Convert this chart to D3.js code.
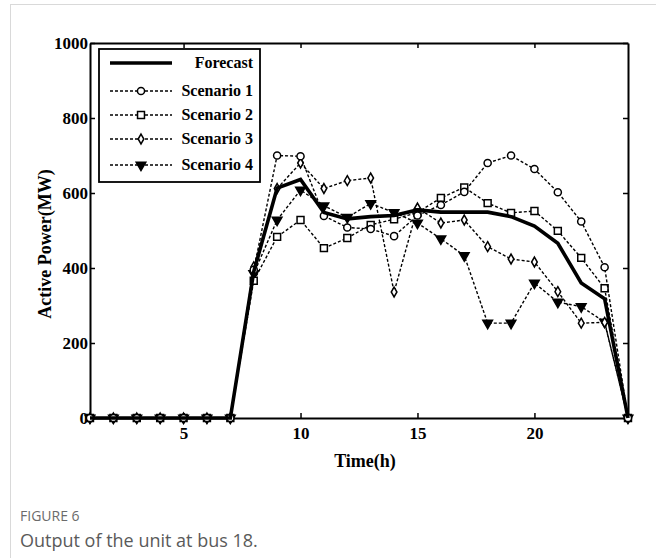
<!DOCTYPE html>
<html>
<head>
<meta charset="utf-8">
<script src="https://cdn.jsdelivr.net/npm/d3@7"></script>
<style>
  body { margin: 0; background: #fff; }
</style>
</head>
<body>
<svg id="chart" width="656" height="558"></svg>
<script>
// hours and series (MW)
const hours = [1, 2, 3, 4, 5, 6, 7, 8, 9, 10, 11, 12, 13, 14, 15, 16, 17, 18, 19, 20, 21, 22, 23, 24];
const forecast  = [0, 0, 0, 0, 0, 0, 0, 390, 613, 636, 548, 531, 537, 540, 555, 549, 549, 549, 537, 512, 466, 360, 318, 0];
const scenario1 = [0, 0, 0, 0, 0, 0, 0, 395, 700, 698, 539, 508, 504, 485, 540, 568, 603, 680, 700, 664, 602, 524, 402, 0];
const scenario2 = [0, 0, 0, 0, 0, 0, 0, 366, 483, 528, 453, 480, 515, 530, 548, 587, 615, 573, 547, 552, 499, 427, 346, 0];
const scenario3 = [0, 0, 0, 0, 0, 0, 0, 403, 612, 680, 612, 633, 640, 336, 560, 520, 528, 457, 424, 416, 337, 253, 255, 0];
const scenario4 = [0, 0, 0, 0, 0, 0, 0, 385, 528, 608, 566, 535, 572, 548, 520, 478, 433, 253, 253, 360, 309, 297, 256, 0];
const seriesNames = ["Forecast", "Scenario 1", "Scenario 2", "Scenario 3", "Scenario 4"];
const xTicks = [5, 10, 15, 20];
const yTicks = [0, 200, 400, 600, 800, 1000];

const serif = "'Liberation Serif', 'Times New Roman', serif";
const svg = d3.select("#chart");

// card frame
svg.append("rect")
  .attr("x", 10.5).attr("y", 4.5)
  .attr("width", 700).attr("height", 600)
  .attr("fill", "#fff").attr("stroke", "#d9d9d9");

const margin = { top: 43, right: 28, bottom: 140, left: 90 };
const width = 656, height = 558;

const x = d3.scaleLinear().domain([1, 24]).range([margin.left, width - margin.right]);
const y = d3.scaleLinear().domain([0, 1000]).range([height - margin.bottom, margin.top]);

const styles = [
  { dash: null, width: 3.6, symbol: null },
  { dash: "3,2", width: 1.4, symbol: d3.symbolCircle, size: 40, fill: "#fff", rotate: 0 },
  { dash: "3,2", width: 1.4, symbol: d3.symbolSquare, size: 48, fill: "#fff", rotate: 0 },
  { dash: "3,2", width: 1.4, symbol: d3.symbolDiamond, size: 28, fill: "#fff", rotate: 0 },
  { dash: "3,2", width: 1.4, symbol: d3.symbolTriangle, size: 40, fill: "#000", rotate: 180 },
];

const series = [forecast, scenario1, scenario2, scenario3, scenario4].map((values, i) => ({
  name: seriesNames[i],
  style: styles[i],
  points: hours.map((h, j) => ({ h, v: values[j] })),
}));

// axes box with inward ticks
const gAxes = svg.append("g").attr("class", "axes");
gAxes.append("g")
  .attr("transform", `translate(0,${y(0)})`)
  .call(d3.axisBottom(x).tickValues(xTicks).tickSizeInner(-5).tickSizeOuter(0).tickPadding(9));
gAxes.append("g")
  .attr("transform", `translate(0,${y(1000)})`)
  .call(d3.axisTop(x).tickValues(xTicks).tickSizeInner(-5).tickSizeOuter(0).tickFormat(""));
gAxes.append("g")
  .attr("transform", `translate(${x(1)},0)`)
  .call(d3.axisLeft(y).tickValues(yTicks).tickFormat(d3.format("d"))
    .tickSizeInner(-5).tickSizeOuter(0).tickPadding(2));
gAxes.append("g")
  .attr("transform", `translate(${x(24)},0)`)
  .call(d3.axisRight(y).tickValues(yTicks).tickSizeInner(-5).tickSizeOuter(0).tickFormat(""));
gAxes.selectAll("g")
  .attr("font-family", serif)
  .attr("font-weight", "bold")
  .attr("font-size", 17);
gAxes.selectAll(".domain").attr("stroke", "#000").attr("stroke-width", 2);
gAxes.selectAll(".tick line").attr("stroke", "#000").attr("stroke-width", 1.5);
gAxes.selectAll(".tick text").attr("fill", "#000");

// lines
const line = d3.line().x((d) => x(d.h)).y((d) => y(d.v));
const gSeries = svg.append("g")
  .selectAll("g")
  .data(series.slice().reverse())
  .join("g");
gSeries.append("path")
  .attr("d", (d) => line(d.points))
  .attr("fill", "none")
  .attr("stroke", "#000")
  .attr("stroke-width", (d) => d.style.width)
  .attr("stroke-dasharray", (d) => d.style.dash);
gSeries.filter((d) => d.style.symbol)
  .selectAll("path.marker")
  .data((d) => d.points.map((p) => ({ ...p, style: d.style })))
  .join("path")
  .attr("class", "marker")
  .attr("transform", (d) => `translate(${x(d.h)},${y(d.v)}) rotate(${d.style.rotate})`)
  .attr("d", (d) => d3.symbol(d.style.symbol, d.style.size)())
  .attr("fill", (d) => d.style.fill)
  .attr("stroke", "#000")
  .attr("stroke-width", 1.5);

// legend
const legend = svg.append("g").attr("transform", "translate(99,49)");
legend.append("rect")
  .attr("width", 161).attr("height", 133)
  .attr("fill", "#fff").attr("stroke", "#000").attr("stroke-width", 1.8);
const item = legend.selectAll(".item")
  .data(series)
  .join("g")
  .attr("class", "item")
  .attr("transform", (d, i) => `translate(0,${[14, 42, 66, 90, 116][i]})`);
item.append("line")
  .attr("x1", 11).attr("x2", 73)
  .attr("stroke", "#000")
  .attr("stroke-width", (d) => d.style.width)
  .attr("stroke-dasharray", (d) => d.style.dash);
item.filter((d) => d.style.symbol)
  .append("path")
  .attr("transform", (d) => `translate(42,0) rotate(${d.style.rotate})`)
  .attr("d", (d) => d3.symbol(d.style.symbol, d.style.size)())
  .attr("fill", (d) => d.style.fill)
  .attr("stroke", "#000")
  .attr("stroke-width", 1.5);
item.append("text")
  .attr("x", 154)
  .attr("dy", "0.33em")
  .attr("text-anchor", "end")
  .attr("font-family", serif)
  .attr("font-weight", "bold")
  .attr("font-size", 16)
  .text((d) => d.name);

// axis titles
svg.append("text")
  .attr("x", 365).attr("y", 467)
  .attr("text-anchor", "middle")
  .attr("font-family", serif)
  .attr("font-weight", "bold")
  .attr("font-size", 18)
  .text("Time(h)");
svg.append("text")
  .attr("transform", "translate(51,244) rotate(-90)")
  .attr("text-anchor", "middle")
  .attr("font-family", serif)
  .attr("font-weight", "bold")
  .attr("font-size", 18)
  .text("Active Power(MW)");

// caption
svg.append("text")
  .attr("x", 20).attr("y", 521)
  .attr("font-family", "'Open Sans', sans-serif")
  .attr("font-size", 14)
  .attr("fill", "#6b6b6b")
  .text("FIGURE 6");
svg.append("text")
  .attr("x", 20).attr("y", 547)
  .attr("font-family", "'Open Sans', sans-serif")
  .attr("font-size", 18)
  .attr("fill", "#5a5a5a")
  .text("Output of the unit at bus 18.");
</script>
</body>
</html>
